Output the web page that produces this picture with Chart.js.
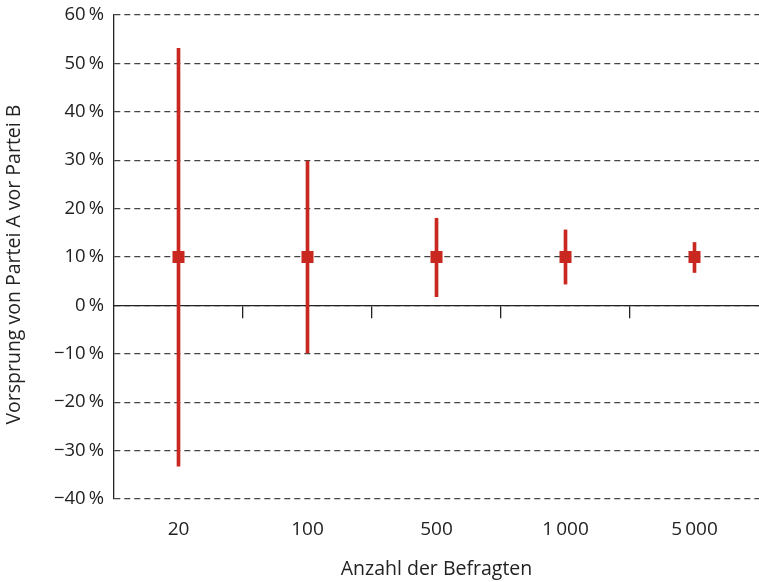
<!DOCTYPE html>
<html>
<head>
<meta charset="utf-8">
<script src="https://cdn.jsdelivr.net/npm/chart.js@4.4.1/dist/chart.umd.min.js"></script>
<style>
html,body{margin:0;padding:0;background:#fff;}
#wrap{width:759px;height:582px;position:relative;}
</style>
</head>
<body>
<div id="wrap"><canvas id="c" width="759" height="582"></canvas></div>
<script>
// Data
const categories = ['20', '100', '500', '1\u2009000', '5\u2009000'];
const leadValues = [10, 10, 10, 10, 10];
const lowerBounds = [-33.2, -9.8, 1.8, 4.4, 6.8];
const upperBounds = [53.1, 29.8, 18, 15.6, 13];
const yTickMin = -40, yTickMax = 60, yTickStep = 10;

const RED = '#c8281f';
const AXIS = '#222';
const GRID = '#444';

Chart.defaults.font.family = "'Open Sans', sans-serif";
Chart.defaults.font.size = 18;
Chart.defaults.color = '#222';

function fmtPct(v) {
  const s = Math.abs(v) + '\u2009%';
  return v < 0 ? '\u2212' + s : s;
}
function fixPad(s) {
  s.paddingTop = 0; s.paddingBottom = 0; s.paddingLeft = 0; s.paddingRight = 0;
}

new Chart(document.getElementById('c'), {
  type: 'bar',
  data: {
    labels: categories,
    datasets: [
      {
        type: 'bar',
        data: categories.map((_, i) => [lowerBounds[i], upperBounds[i]]),
        backgroundColor: RED,
        borderWidth: 0,
        barThickness: 3,
        xAxisID: 'x',
        yAxisID: 'y',
        order: 2
      },
      {
        type: 'line',
        data: leadValues,
        showLine: false,
        pointStyle: 'rect',
        pointRadius: 8.5,
        pointBackgroundColor: RED,
        pointBorderWidth: 0,
        xAxisID: 'x',
        yAxisID: 'y',
        order: 1
      }
    ]
  },
  options: {
    responsive: false,
    animation: false,
    events: [],
    layout: { autoPadding: false, padding: { left: 3, right: 0, top: 15, bottom: 1 } },
    plugins: { legend: { display: false }, tooltip: { enabled: false } },
    scales: {
      x: {
        type: 'category',
        position: 'bottom',
        offset: true,
        grid: { display: false, drawTicks: false },
        border: { display: false },
        ticks: { padding: 19, font: { size: 19 }, maxRotation: 0 },
        title: { display: true, text: 'Anzahl der Befragten', font: { size: 19.5 }, padding: { top: 12, bottom: 0 } },
        afterFit: (s) => { s.height = 82; fixPad(s); }
      },
      x0: {
        type: 'category',
        position: { y: 0 },
        offset: true,
        grid: {
          offset: true, drawOnChartArea: false, drawTicks: true, tickLength: 12, lineWidth: 1.3,
          color: (ctx) => (ctx.type === 'tick' && ctx.index > 0) ? AXIS : 'rgba(0,0,0,0)'
        },
        border: { display: true, color: AXIS, width: 1.3 },
        ticks: { display: false },
        afterFit: (s) => { fixPad(s); }
      },
      y: {
        type: 'linear',
        min: yTickMin,
        max: yTickMax,
        grid: { color: GRID, lineWidth: 1.2, drawTicks: false },
        border: { display: true, color: AXIS, width: 1.3, dash: [6, 4] },
        ticks: { stepSize: yTickStep, padding: 10, callback: (v) => fmtPct(v), font: { size: 18.5 } },
        title: { display: true, text: 'Vorsprung von Partei A vor Partei B   ', font: { size: 19.5 }, padding: { top: 0, bottom: 6 } },
        afterFit: (s) => { s.width = 111; fixPad(s); }
      }
    }
  }
});
</script>
</body>
</html>
